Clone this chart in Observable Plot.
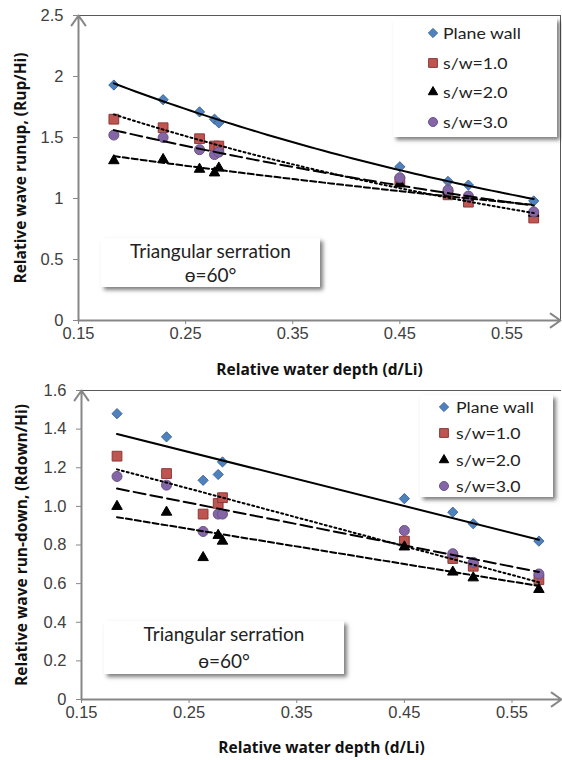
<!DOCTYPE html>
<html>
<head>
<meta charset="utf-8">
<script src="https://cdn.jsdelivr.net/npm/d3@7"></script>
<script src="https://cdn.jsdelivr.net/npm/@observablehq/plot@0.6"></script>
<style>
  body { margin: 0; background: #fff; }
  #wrap { position: relative; width: 562px; height: 760px; overflow: hidden; background: #fff; }
  .panel { position: absolute; left: 0; width: 562px; height: 380px; }
  .panel svg { display: block; }
  .box { position: absolute; background: #fff; box-shadow: 3px 3px 4px rgba(0,0,0,0.5); }
  .item { position: absolute; height: 20px; line-height: 20px; font-family: Lato, "Open Sans", sans-serif; font-size: 15.8px; color: #222; white-space: nowrap; }
  .item svg { position: absolute; top: 2px; }
  .item span { position: absolute; transform: scaleX(1.12); transform-origin: left center; }
  .note { font-family: Lato, "Open Sans", sans-serif; font-size: 19px; color: #222; text-align: center; }
  .note div { position: absolute; left: 0; right: 0; height: 24px; line-height: 24px; }
</style>
</head>
<body>
<div id="wrap">
  <div class="panel" id="top" style="top:0"></div>
  <div class="panel" id="bottom" style="top:380px"></div>
</div>
<script>
// ---------- data ----------
const depth = [0.183, 0.229, 0.263, 0.277, 0.281, 0.45, 0.495, 0.514, 0.575];
const seriesNames = ["Plane wall", "s/w=1.0", "s/w=2.0", "s/w=3.0"];

const runupPlane = [1.93, 1.81, 1.71, 1.65, 1.62, 1.26, 1.14, 1.11, 0.98];
const runupSW1   = [1.65, 1.58, 1.49, 1.43, 1.43, 1.14, 1.03, 0.97, 0.84];
const runupSW2   = [1.31, 1.32, 1.24, 1.21, 1.25, 1.12, 1.06, 1.01, 0.88];
const runupSW3   = [1.52, 1.50, 1.40, 1.36, 1.38, 1.17, 1.07, 1.02, 0.89];

const rundownPlane = [1.48, 1.36, 1.135, 1.165, 1.23, 1.04, 0.97, 0.91, 0.82];
const rundownSW1   = [1.26, 1.17, 0.96, 1.015, 1.045, 0.82, 0.73, 0.69, 0.62];
const rundownSW2   = [1.00, 0.97, 0.735, 0.85, 0.82, 0.79, 0.66, 0.63, 0.57];
const rundownSW3   = [1.155, 1.11, 0.87, 0.96, 0.96, 0.875, 0.755, 0.71, 0.65];

const xTicks = [0.15, 0.25, 0.35, 0.45, 0.55];
const runupTicks = [0, 0.5, 1, 1.5, 2, 2.5];
const rundownTicks = [0, 0.2, 0.4, 0.6, 0.8, 1, 1.2, 1.4, 1.6];

const xTitle = "Relative water depth (d/Li)";
const runupTitle = "Relative wave runup, (Rup/Hi)";
const rundownTitle = "Relative wave run-down, (Rdown/Hi)";
const noteLines = ["Triangular serration", "\u0275=60\u00b0"];

// ---------- styles ----------
const styles = [
  {symbol: "diamond2", r: 4.6, fill: "#4F81BD", stroke: "#3B679B", dash: null},
  {symbol: "square",   r: 5.5, fill: "#BE5551", stroke: "#8C3836", dash: "2,3"},
  {symbol: "triangle", r: 3.9, fill: "#000000", stroke: "#000000", dash: "6,3"},
  {symbol: "circle",   r: 5.0, fill: "#8466A6", stroke: "#6A5286", dash: "12,5"}
];
const d3sym = {diamond2: d3.symbolDiamond2, square: d3.symbolSquare, triangle: d3.symbolTriangle, circle: d3.symbolCircle};
const axisGray = "#878787";
const frameGray = "#595959";
const titleFont = "'Open Sans', Lato, sans-serif";

function rowsOf(values) { return depth.map((x, i) => ({x, y: values[i]})); }

// exponential trendline y = a * exp(b x), least squares on ln y
function expFit(rows) {
  const lx = rows.map(d => d.x), ly = rows.map(d => Math.log(d.y));
  const mx = d3.mean(lx), my = d3.mean(ly);
  const b = d3.sum(lx, (v, i) => (v - mx) * (ly[i] - my)) / d3.sum(lx, v => (v - mx) ** 2);
  const a = Math.exp(my - b * mx);
  const [x0, x1] = d3.extent(rows, d => d.x);
  return d3.range(61).map(i => { const x = x0 + (x1 - x0) * i / 60; return {x, y: a * Math.exp(b * x)}; });
}

function makeChart(o) {
  const [xmin, xmax] = o.xDomain, [ymin, ymax] = o.yDomain;
  const marks = [];
  marks.push(Plot.ruleY([ymax], {x1: xmin, x2: xmax, stroke: frameGray, strokeWidth: 1}));
  if (o.rightFrame) marks.push(Plot.ruleX([xmax], {y1: ymin, y2: ymax, stroke: frameGray, strokeWidth: 1}));
  marks.push(Plot.axisY({ticks: o.yTicks, tickFormat: o.yFmt, tickSize: 5, tickPadding: 10, stroke: axisGray, fill: "#404040", fontSize: 16.5, label: null}));
  marks.push(Plot.axisX({ticks: xTicks, tickFormat: d => d.toFixed(2), tickSize: 4, tickPadding: 3, stroke: axisGray, fill: "#404040", fontSize: 16.5, label: null}));
  marks.push(Plot.arrow([{x1: xmin, y1: ymin, x2: xmin, y2: ymax}], {x1: "x1", y1: "y1", x2: "x2", y2: "y2", stroke: axisGray, strokeWidth: 2, headLength: 9, headAngle: 70}));
  marks.push(Plot.arrow([{x1: xmin, y1: ymin, x2: xmax, y2: ymin}], {x1: "x1", y1: "y1", x2: "x2", y2: "y2", stroke: axisGray, strokeWidth: 2, headLength: 9, headAngle: 70}));
  o.series.forEach((vals, i) => {
    const s = styles[i];
    marks.push(Plot.dot(rowsOf(vals), {x: "x", y: "y", symbol: s.symbol, r: s.r, fill: s.fill, stroke: s.stroke, strokeWidth: 1}));
  });
  o.series.forEach((vals, i) => {
    const s = styles[i];
    const opts = {x: "x", y: "y", stroke: "#000", strokeWidth: 2};
    if (s.dash) opts.strokeDasharray = s.dash;
    if (o.fit === "exp") marks.push(Plot.line(expFit(rowsOf(vals)), opts));
    else marks.push(Plot.linearRegressionY(rowsOf(vals), {...opts, ci: 0}));
  });
  marks.push(Plot.text([o.yTitle], {text: d => d, frameAnchor: "left", dx: o.yTitleDx, rotate: -90, textAnchor: "middle", lineAnchor: "middle", fontWeight: "bold", fontSize: 15.5, fill: "#111", fontFamily: titleFont}));
  marks.push(Plot.text([xTitle], {text: d => d, frameAnchor: "bottom", dy: o.xTitleDy, textAnchor: "middle", lineAnchor: "middle", fontWeight: "bold", fontSize: 15.5, fill: "#111", fontFamily: titleFont}));

  return Plot.plot({
    width: 562, height: 380,
    marginLeft: o.marginLeft, marginRight: o.marginRight, marginTop: o.marginTop, marginBottom: o.marginBottom,
    x: {domain: o.xDomain},
    y: {domain: o.yDomain},
    style: {fontFamily: "Liberation Sans, Arial, sans-serif", fontSize: "16px", color: "#404040", background: "transparent", overflow: "visible"},
    marks
  });
}

document.getElementById("top").appendChild(makeChart({
  series: [runupPlane, runupSW1, runupSW2, runupSW3],
  xDomain: [0.15, 0.6], yDomain: [0, 2.5], yTicks: runupTicks, yFmt: d => String(d),
  marginLeft: 78, marginRight: 2, marginTop: 15, marginBottom: 60,
  rightFrame: true, fit: "exp", yTitle: runupTitle, yTitleDx: -57, xTitleDy: 50
}));

document.getElementById("bottom").appendChild(makeChart({
  series: [rundownPlane, rundownSW1, rundownSW2, rundownSW3],
  xDomain: [0.15, 0.596], yDomain: [0, 1.6], yTicks: rundownTicks, yFmt: d => d === 0 ? "0" : d.toFixed(1),
  marginLeft: 81, marginRight: 1, marginTop: 10, marginBottom: 61,
  rightFrame: false, fit: "linear", yTitle: rundownTitle, yTitleDx: -59, xTitleDy: 49
}));

// ---------- legends & notes (HTML overlays) ----------
const wrap = document.getElementById("wrap");
function addLegend(left, top, width, height, rowCenters, markerX, textX) {
  const box = document.createElement("div");
  box.className = "box";
  Object.assign(box.style, {left: left + "px", top: top + "px", width: width + "px", height: height + "px"});
  seriesNames.forEach((name, i) => {
    const s = styles[i];
    const it = document.createElement("div");
    it.className = "item";
    it.style.top = (rowCenters[i] - 10) + "px";
    it.style.left = "0px";
    it.style.width = width + "px";
    const path = d3.symbol(d3sym[s.symbol], Math.PI * (s.r * 0.9) ** 2)();
    it.innerHTML = `<svg width="16" height="16" style="left:${markerX - 8}px"><path transform="translate(8,8)" d="${path}" fill="${s.fill}" stroke="${s.stroke}" stroke-width="1"/></svg><span style="left:${textX}px">${name}</span>`;
    box.appendChild(it);
  });
  wrap.appendChild(box);
}
function addNote(left, top, width, height, lineCenters) {
  const box = document.createElement("div");
  box.className = "box note";
  Object.assign(box.style, {left: left + "px", top: top + "px", width: width + "px", height: height + "px"});
  noteLines.forEach((t, i) => {
    const d = document.createElement("div");
    d.style.top = (lineCenters[i] - 12) + "px";
    d.textContent = t;
    box.appendChild(d);
  });
  wrap.appendChild(box);
}
addLegend(393, 18, 164, 119, [15, 45, 74, 104], 40, 50);
addLegend(420, 395, 133, 102, [12, 38, 65, 91], 24, 36);
addNote(101, 238, 219, 49, [13, 37]);
addNote(104, 621, 240, 53, [13, 40]);
</script>
</body>
</html>
